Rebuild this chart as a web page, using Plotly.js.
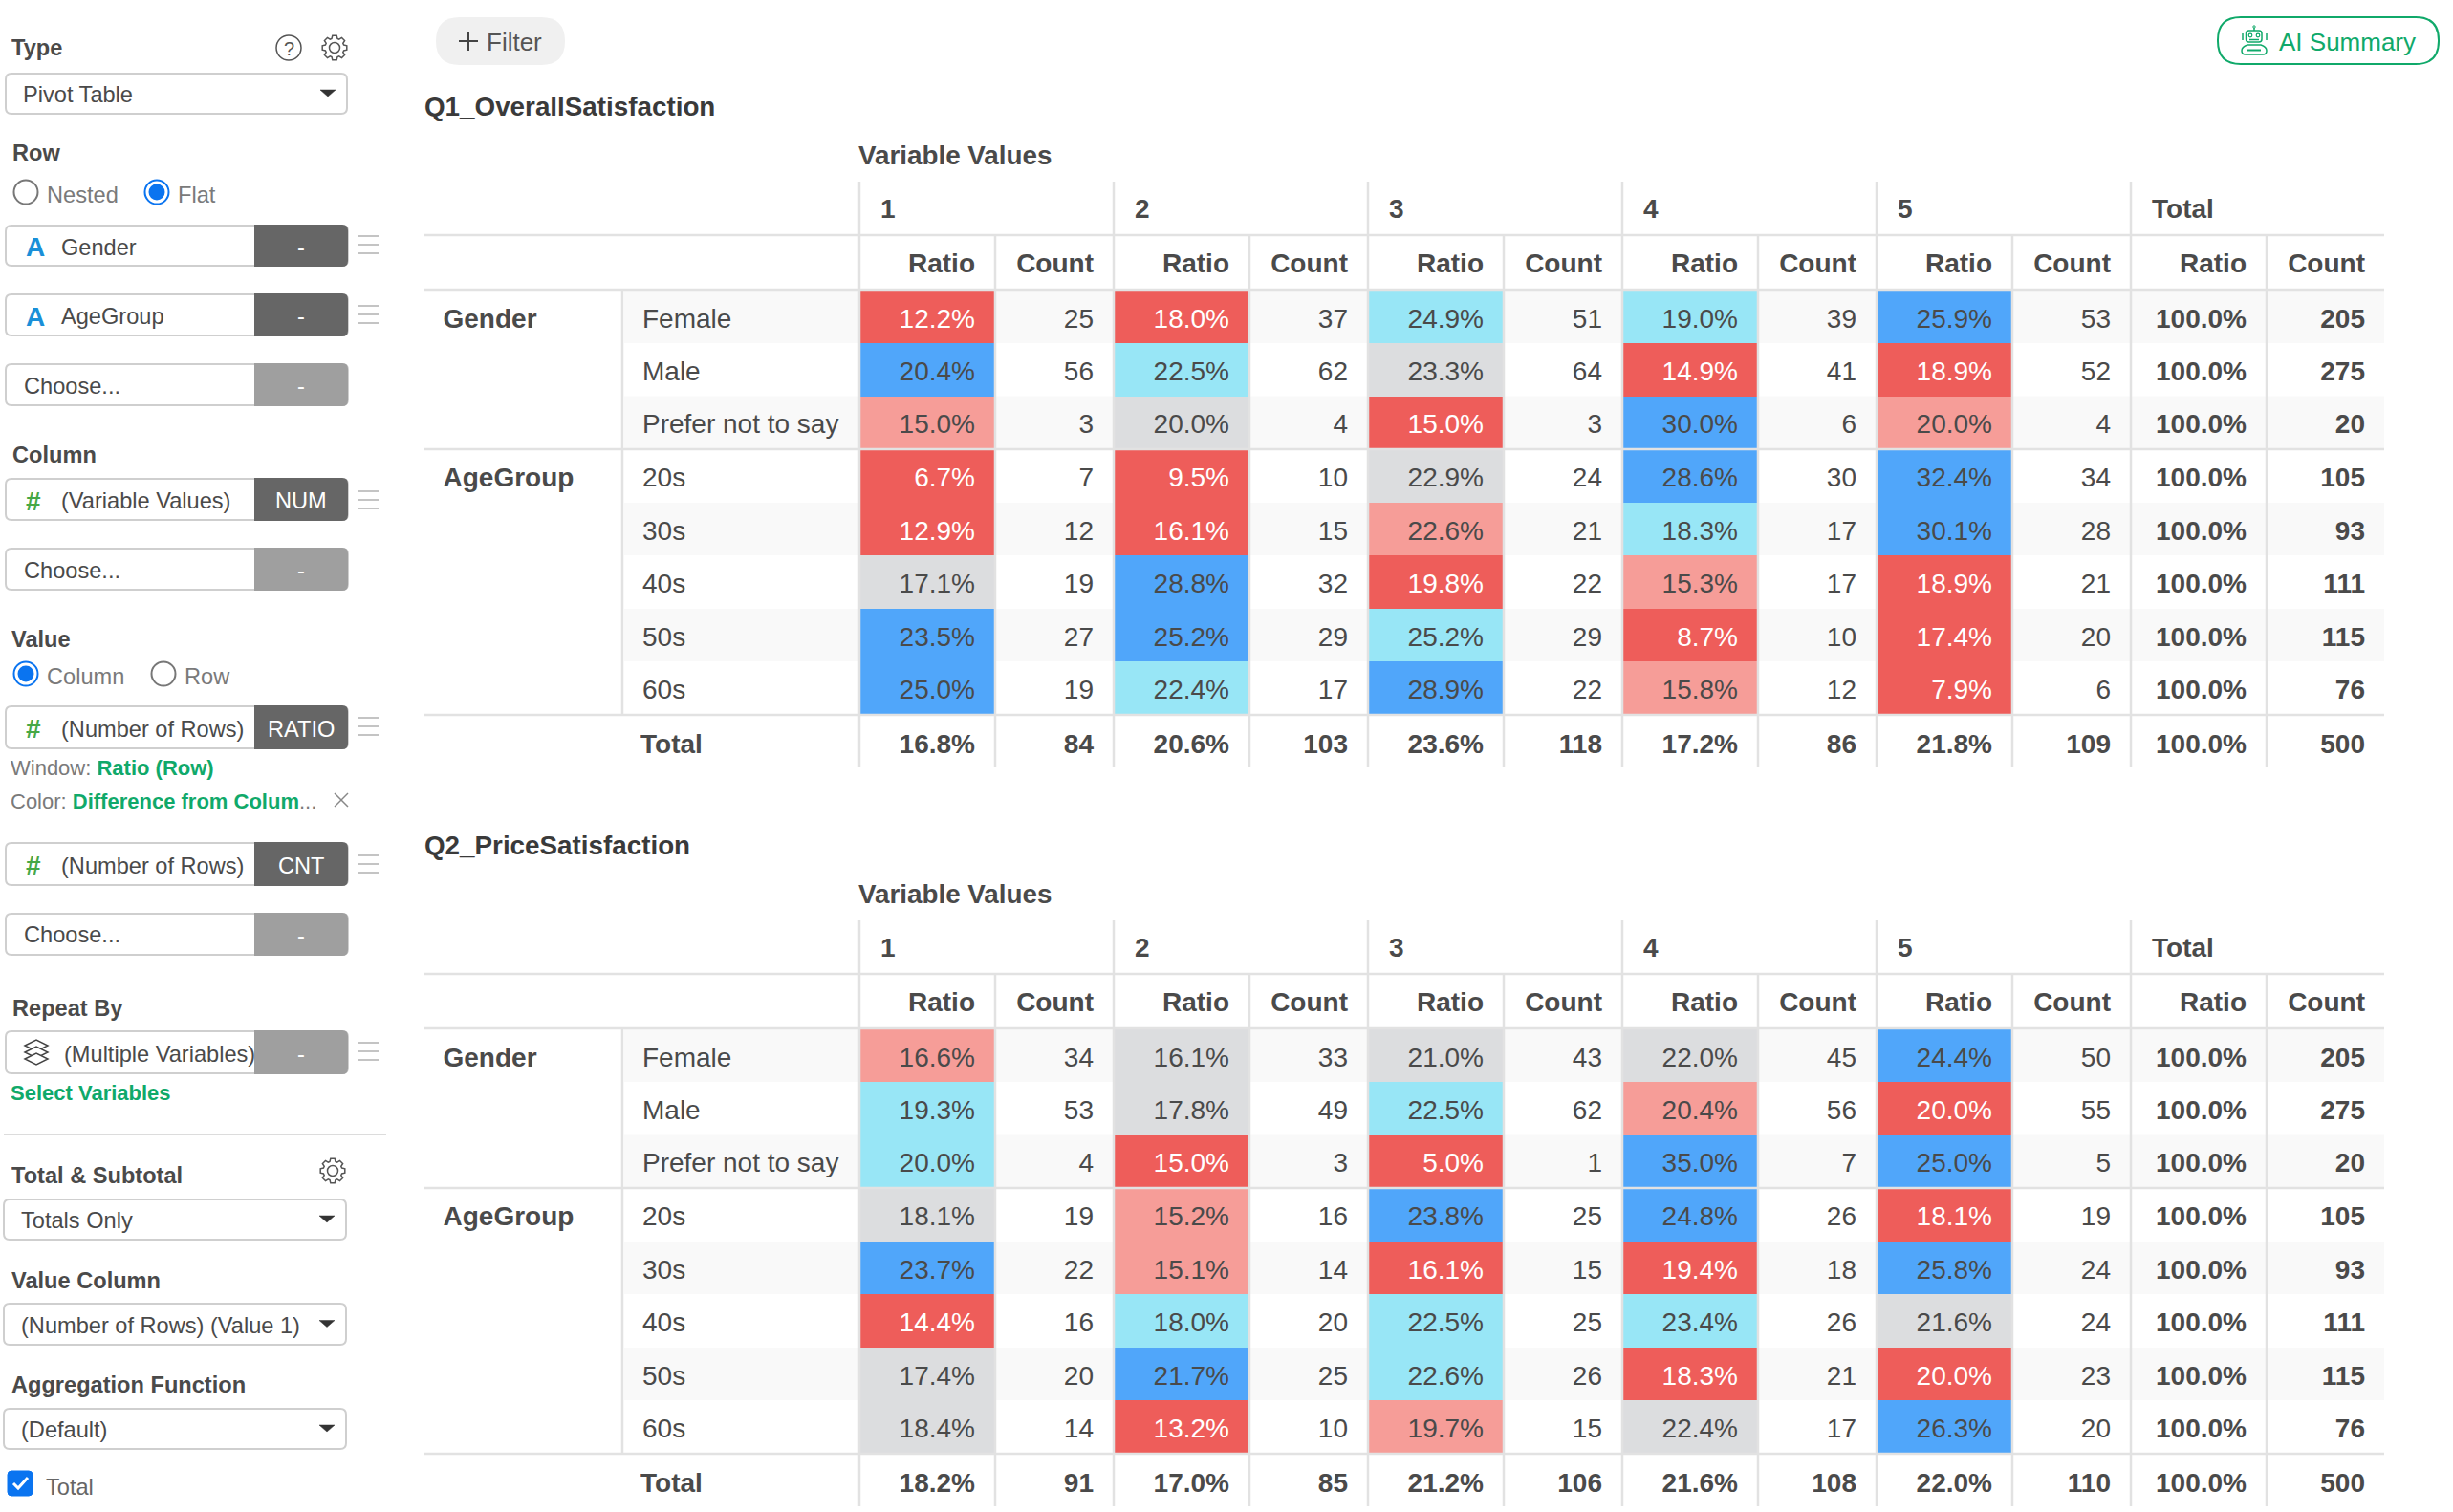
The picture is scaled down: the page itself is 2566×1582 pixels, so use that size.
<!DOCTYPE html>
<html><head><meta charset="utf-8">
<script src="https://cdn.plot.ly/plotly-3.0.1.min.js"></script>
<style>html,body{margin:0;padding:0;background:#fff;overflow:hidden}</style>
</head><body><div id="chart" style="width:2566px;height:1582px"></div>
<script>
// ---------- data ----------
const columnValues = ['1','2','3','4','5','Total'];
const subHeaders = ['Ratio','Count'];
const rowLabels = ['Female','Male','Prefer not to say','20s','30s','40s','50s','60s'];
const rowGroups = ['Gender','AgeGroup'];
const rowTotals = [205,275,20,105,93,111,115,76];
const grandTotal = 500;
const q1Ratio = [[12.2,18.0,24.9,19.0,25.9],[20.4,22.5,23.3,14.9,18.9],[15.0,20.0,15.0,30.0,20.0],[6.7,9.5,22.9,28.6,32.4],[12.9,16.1,22.6,18.3,30.1],[17.1,28.8,19.8,15.3,18.9],[23.5,25.2,25.2,8.7,17.4],[25.0,22.4,28.9,15.8,7.9]];
const q1Count = [[25,37,51,39,53],[56,62,64,41,52],[3,4,3,6,4],[7,10,24,30,34],[12,15,21,17,28],[19,32,22,17,21],[27,29,29,10,20],[19,17,22,12,6]];
const q1Class = [[-2,-2,1,1,2],[2,1,0,-2,-2],[-1,0,-2,2,-1],[-2,-2,0,2,2],[-2,-2,-1,1,2],[0,2,-2,-1,-2],[2,2,1,-2,-2],[2,1,2,-1,-2]];
const q1TotalRatio = [16.8,20.6,23.6,17.2,21.8];
const q1TotalCount = [84,103,118,86,109];
const q2Ratio = [[16.6,16.1,21.0,22.0,24.4],[19.3,17.8,22.5,20.4,20.0],[20.0,15.0,5.0,35.0,25.0],[18.1,15.2,23.8,24.8,18.1],[23.7,15.1,16.1,19.4,25.8],[14.4,18.0,22.5,23.4,21.6],[17.4,21.7,22.6,18.3,20.0],[18.4,13.2,19.7,22.4,26.3]];
const q2Count = [[34,33,43,45,50],[53,49,62,56,55],[4,3,1,7,5],[19,16,25,26,19],[22,14,15,18,24],[16,20,25,26,24],[20,25,26,21,23],[14,10,15,17,20]];
const q2Class = [[-1,0,0,0,2],[1,0,1,-1,-2],[1,-2,-2,2,2],[0,-1,2,2,-2],[2,-1,-2,-2,2],[-2,1,1,1,0],[0,2,1,-2,-2],[0,-2,-1,0,2]];
const q2TotalRatio = [18.2,17.0,21.2,21.6,22.0];
const q2TotalCount = [91,85,106,108,110];

// ---------- style ----------
const FONT = '"Liberation Sans", Arial, sans-serif';
const INK = '#4a4a4a', LINE = '#e2e2e2', GREEN = '#10a96a', GRAYTXT = '#7a7a7a';
const classColors = ['#ee5d5a','#f69d98','#dcdddf','#98e6f6','#50a6fa'];

const traces = [], shapes = [], annotations = [];
function label(x,y,text,o={}){
  const a=o.anchor||'left';
  annotations.push({x:(x<440&&a==='left')?x-1.5:x,y:y+1.5,xref:'x',yref:'y',text,showarrow:false,xanchor:a,yanchor:'middle',borderpad:0,
    font:{family:FONT,size:o.size||23.6,color:o.color||INK}});
}
function box(x0,y0,x1,y1,o={}){
  const r=o.r==null?6:o.r, rl=o.left===false?0:r, rr=o.right===false?0:r;
  const p=`M${x0+rl},${y0} L${x1-rr},${y0} Q${x1},${y0} ${x1},${y0+rr} L${x1},${y1-rr} Q${x1},${y1} ${x1-rr},${y1} L${x0+rl},${y1} Q${x0},${y1} ${x0},${y1-rl} L${x0},${y0+rl} Q${x0},${y0} ${x0+rl},${y0} Z`;
  shapes.push({type:'path',path:p,xref:'x',yref:'y',fillcolor:o.fill||'rgba(0,0,0,0)',line:{color:o.line||'rgba(0,0,0,0)',width:o.w==null?2:o.w},layer:o.layer||'above'});
}
function seg(x0,y0,x1,y1,color,w,layer){
  shapes.push({type:'line',x0,y0,x1,y1,xref:'x',yref:'y',line:{color,width:w},layer:layer||'above'});
}
function path(p,o={}){
  shapes.push({type:'path',path:p,xref:'x',yref:'y',fillcolor:o.fill||'rgba(0,0,0,0)',line:{color:o.line||'rgba(0,0,0,0)',width:o.w==null?1.5:o.w}});
}
function circle(cx,cy,rx,ry,o={}){
  shapes.push({type:'circle',x0:cx-rx,x1:cx+rx,y0:cy-ry,y1:cy+ry,xref:'x',yref:'y',fillcolor:o.fill||'rgba(0,0,0,0)',line:{color:o.line||'rgba(0,0,0,0)',width:o.w==null?2:o.w}});
}
function gear(cx,cy){
  let p='';const n=8,R=13,r=10;
  for(let i=0;i<n;i++){
    const a=i*2*Math.PI/n;
    [[-0.30,r],[-0.17,R],[0.17,R],[0.30,r]].forEach(([d,q],j)=>{
      p+=(i===0&&j===0?'M':'L')+(cx+q*Math.cos(a+d)).toFixed(1)+','+(cy+q*Math.sin(a+d)).toFixed(1)+' ';
    });
  }
  path(p+'Z',{line:'#555',w:1.5});
  circle(cx,cy,5.5,5.5,{line:'#555',w:1.5});
}
function burger(cy){[-9,0,9].forEach(d=>seg(375,cy+d,396,cy+d,'#b0b0b0',1.5));}
function pill(y0,y1,text,tag,o={}){
  box(6,y0,364,y1,{fill:'#fff',line:'#cfcfcf'});
  box(266,y0-1,364,y1+1,{fill:o.light?'#9f9f9f':'#666',left:false});
  if(o.icon==='A') label(27,(y0+y1)/2,'<b>A</b>',{size:28,color:'#1a8fd8'});
  if(o.icon==='#') label(27,(y0+y1)/2,'<b>#</b>',{size:28,color:'#46a846'});
  label(o.tx||(o.icon?64:25),(y0+y1)/2+(o.dy||0),text);
  label(315,(y0+y1)/2,tag,{color:'#fff',anchor:'center'});
}
function dropdown(x0,x1,y0,y1,text,tx){
  box(x0,y0,x1,y1,{fill:'#fff',line:'#cfcfcf'});
  label(tx,(y0+y1)/2-0.5,text);
  const c=x1-20,m=(y0+y1)/2;
  path(`M${c-8},${m-4} L${c+8},${m-4} L${c},${m+3} Z`,{fill:'#333',line:'#333',w:0.5});
}
function radio(cx,cy,on){
  if(on){circle(cx,cy,12.5,12.5,{line:'#0a74f0',w:2,fill:'#fff'});circle(cx,cy,8.5,8.5,{fill:'#0a74f0',w:0});}
  else circle(cx,cy,12.5,12.5,{line:'#777',w:2,fill:'#fff'});
}

// ---------- sidebar ----------
label(12,48.5,'<b>Type</b>');
circle(302,50,13,13,{line:'#555',w:1.5});
label(302,49,'?',{size:20,color:'#555',anchor:'center'});
gear(350,50);
dropdown(6,363,77,119,'Pivot Table',24.5);
label(13,158.5,'<b>Row</b>');
radio(27,201,false); label(49.5,202,'Nested',{color:GRAYTXT});
radio(164,201,true); label(186.5,202,'Flat',{color:GRAYTXT});
pill(236,278,'Gender','-',{icon:'A'}); burger(256);
pill(308,351,'AgeGroup','-',{icon:'A'}); burger(329);
pill(381,424,'Choose...','-',{light:true});
label(13,474,'<b>Column</b>');
pill(501,544,'(Variable Values)','NUM',{icon:'#'}); burger(523);
pill(574,617,'Choose...','-',{light:true});
label(12,667,'<b>Value</b>');
radio(27,705,true); label(49.5,706,'Column',{color:GRAYTXT});
radio(171,705,false); label(193.5,706,'Row',{color:GRAYTXT});
pill(739,783,'(Number of Rows)','RATIO',{icon:'#'}); burger(760);
label(11,802,`<span style="color:${GRAYTXT}">Window: </span><b style="color:${GREEN}">Ratio (Row)</b>`,{size:22});
label(11,836.5,`<span style="color:${GRAYTXT}">Color: </span><b style="color:${GREEN}">Difference from Colum</b><span style="color:${GRAYTXT}">...</span>`,{size:22});
seg(350,830,364,844,'#888',1.5); seg(364,830,350,844,'#888',1.5);
pill(882,926,'(Number of Rows)','CNT',{icon:'#'}); burger(904);
pill(956,999,'Choose...','-',{light:true,dy:-1});
label(13,1053,'<b>Repeat By</b>');
pill(1079,1123,'(Multiple Variables)','-',{light:true,tx:67}); burger(1100);
[0,7,14].forEach(d=>path(`M26,${1094+d} L38,${1088+d} L50,${1094+d} L38,${1100+d} Z`,{line:'#444',w:1.5,fill:'#fff'}));
label(11,1142,`<b style="color:${GREEN}">Select Variables</b>`,{size:22});
seg(4,1187,404,1187,'#dcdcdc',2);
label(12,1228,'<b>Total &amp; Subtotal</b>');
gear(348,1225);
dropdown(4,362,1255,1297,'Totals Only',22.5);
label(12,1338,'<b>Value Column</b>');
dropdown(4,362,1364,1407,'(Number of Rows) (Value 1)',22.5);
label(12,1447,'<b>Aggregation Function</b>');
dropdown(4,362,1474,1516,'(Default)',22.5);
box(8,1539,34,1565,{fill:'#0a74f0',line:'#0a74f0',r:4,w:1});
path('M14,1552 L19,1557 L29,1546',{line:'#fff',w:3});
label(48,1554,'Total',{color:'#666'});

// top buttons
box(456,18,591,68,{r:25,fill:'#f0f0f0',w:0});
seg(480,43,500,43,'#444',2); seg(490,33,490,53,'#444',2);
label(508,42,'Filter',{size:26,color:'#555'});
box(2320,18,2551,67,{r:24,fill:'#fff',line:GREEN,w:2});
box(2349.5,32,2366,44,{r:3,line:GREEN,w:1.5});
seg(2358,32,2358,29,GREEN,1.5); circle(2358,28,1.2,1.2,{line:GREEN,w:1});
circle(2354,37,1.8,1.8,{line:GREEN,w:1.2}); circle(2362,37,1.8,1.8,{line:GREEN,w:1.2});
seg(2353,41.5,2363,41.5,GREEN,1.5);
seg(2346,35,2346,42,GREEN,1.5); seg(2371,35,2371,42,GREEN,1.5);
path('M2351,47 L2365,47 Q2371,49 2371,53 Q2371,57 2367,57 L2349,57 Q2345,57 2345,53 Q2345,49 2351,47 Z',{line:GREEN,w:1.5});
seg(2351,52.5,2365,52.5,GREEN,2);
label(2383,42.5,'AI Summary',{size:26,color:GREEN});

// ---------- tables ----------
const groupStarts = [899,1165,1431,1697,1963,2229];
const RATIO_W = 142, GROUP_W = 266, RIGHT = 2494, PAD = 21;
const baseRowEdges = [304,359,414.5,470,526,581,637,692,747];
const stripes = [0,2,4,6];

function table(dy,title,ratio,count,cls,totR,totC){
  label(443,109.5+dy,`<b style="color:#3a3a3a">${title}</b>`,{size:27.8});
  label(896.5,160.5+dy,'<b>Variable Values</b>',{size:27.8});

  const edgesY = baseRowEdges.map(v=>v+dy);
  const midY = edgesY.slice(0,-1).map((v,i)=>(v+edgesY[i+1])/2+4);
  const totalY = 780.5+dy;

  stripes.forEach(i=>shapes.push({type:'rect',x0:653,x1:RIGHT,y0:edgesY[i],y1:edgesY[i+1],xref:'x',yref:'y',fillcolor:'#f9f9f9',line:{width:0},layer:'below'}));

  // coloured ratio cells through a heatmap: odd columns (counts) stay empty
  const edgesX = []; groupStarts.slice(0,5).forEach(g=>edgesX.push(g,g+RATIO_W)); edgesX.push(groupStarts[5]);
  const z = cls.map(r=>{const out=[];r.forEach(c=>out.push(c,null));return out;});
  const scale=[];classColors.forEach((c,i)=>{scale.push([i/5,c],[(i+1)/5,c]);});
  traces.push({type:'heatmap',x:edgesX,y:edgesY,z,zmin:-2.5,zmax:2.5,colorscale:scale,showscale:false,hoverinfo:'skip',zsmooth:false,xaxis:'x',yaxis:'y'});

  // header text
  const hx=[],hy=[],ht=[];
  groupStarts.forEach((g,i)=>{hx.push(g+22);hy.push(221+dy);ht.push('<b>'+columnValues[i]+'</b>');});
  textTrace(hx,hy,ht,'middle right',INK);
  const sx=[],sy=[],st=[];
  groupStarts.forEach(g=>{sx.push(g+RATIO_W-PAD);sy.push(278+dy);st.push('<b>'+subHeaders[0]+'</b>');sx.push(g+GROUP_W-PAD);sy.push(278+dy);st.push('<b>'+subHeaders[1]+'</b>');});
  textTrace(sx,sy,st,'middle left',INK);

  // row labels
  textTrace(rowLabels.map(()=>672),midY,rowLabels,'middle right',INK);
  textTrace([463.5,463.5],[midY[0],midY[3]],rowGroups.map(s=>'<b>'+s+'</b>'),'middle right',INK);
  textTrace([670],[totalY],['<b>Total</b>'],'middle right',INK);

  // body values
  const rx=[],ry=[],rt=[],rc=[],cx=[],cy=[],ct=[];
  ratio.forEach((row,r)=>row.forEach((v,c)=>{
    rx.push(groupStarts[c]+RATIO_W-PAD);ry.push(midY[r]);rt.push(v.toFixed(1)+'%');rc.push(cls[r][c]===-2?'#ffffff':INK);
    cx.push(groupStarts[c]+GROUP_W-PAD);cy.push(midY[r]);ct.push(String(count[r][c]));
  }));
  textTrace(rx,ry,rt,'middle left',rc);
  textTrace(cx,cy,ct,'middle left',INK);

  // totals
  const tx=[],ty=[],tt=[];
  rowTotals.forEach((v,r)=>{
    tx.push(groupStarts[5]+RATIO_W-PAD);ty.push(midY[r]);tt.push('<b>100.0%</b>');
    tx.push(groupStarts[5]+GROUP_W-PAD);ty.push(midY[r]);tt.push('<b>'+v+'</b>');
  });
  totR.forEach((v,c)=>{
    tx.push(groupStarts[c]+RATIO_W-PAD);ty.push(totalY);tt.push('<b>'+v.toFixed(1)+'%</b>');
    tx.push(groupStarts[c]+GROUP_W-PAD);ty.push(totalY);tt.push('<b>'+totC[c]+'</b>');
  });
  tx.push(groupStarts[5]+RATIO_W-PAD);ty.push(totalY);tt.push('<b>100.0%</b>');
  tx.push(groupStarts[5]+GROUP_W-PAD);ty.push(totalY);tt.push('<b>'+grandTotal+'</b>');
  textTrace(tx,ty,tt,'middle left',INK);

  // rules
  [246,303,470,748].forEach(y=>seg(444,y+dy,RIGHT,y+dy,LINE,2.5));
  groupStarts.forEach(g=>{seg(g,190+dy,g,803+dy,LINE,2.5);seg(g+RATIO_W,246+dy,g+RATIO_W,803+dy,LINE,2.5);});
  seg(651,303+dy,651,748+dy,LINE,2.5);
}
function textTrace(x,y,text,pos,color){
  traces.push({type:'scatter',mode:'text',x,y,text,textposition:pos,cliponaxis:false,hoverinfo:'skip',showlegend:false,
    textfont:{family:FONT,size:28,color},xaxis:'x',yaxis:'y'});
}
table(0,'Q1_OverallSatisfaction',q1Ratio,q1Count,q1Class,q1TotalRatio,q1TotalCount);
table(773,'Q2_PriceSatisfaction',q2Ratio,q2Count,q2Class,q2TotalRatio,q2TotalCount);

const hidden={visible:false,fixedrange:true,showgrid:false,zeroline:false};
Plotly.newPlot('chart',traces,{
  width:2566,height:1582,margin:{l:0,r:0,t:0,b:0},paper_bgcolor:'#fff',plot_bgcolor:'#fff',showlegend:false,
  xaxis:Object.assign({range:[0,2566]},hidden),yaxis:Object.assign({range:[1582,0]},hidden),
  shapes,annotations,font:{family:FONT}
},{displayModeBar:false,responsive:false});
</script></body></html>
